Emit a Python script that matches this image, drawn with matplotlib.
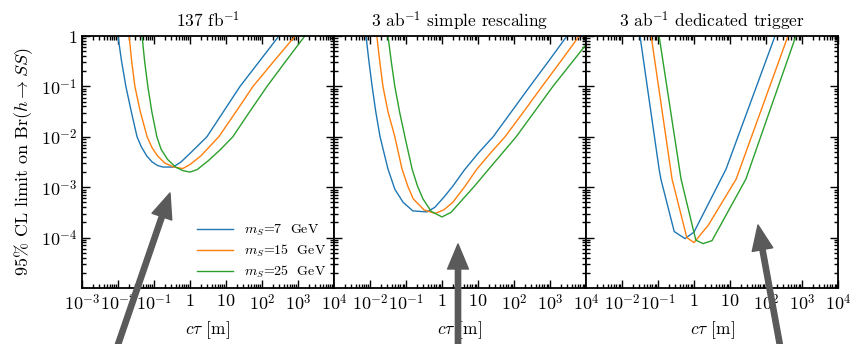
import numpy as np
import matplotlib
matplotlib.use("Agg")
import matplotlib.pyplot as plt
from matplotlib.ticker import LogLocator, FixedLocator, FuncFormatter, NullFormatter
from matplotlib.patches import FancyArrowPatch

plt.rcParams.update({
    "font.family": "serif",
    "font.serif": ["cmr10", "DejaVu Serif"],
    "mathtext.fontset": "cm",
    "axes.unicode_minus": False,
    "axes.formatter.use_mathtext": True,
})

# ---------------- data (log10 values) ----------------
titles = [r"137 fb$^{-1}$", r"3 ab$^{-1}$ simple rescaling", r"3 ab$^{-1}$ dedicated trigger"]
masses = ["7", "15", "25"]
colors = ["#1f77b4", "#ff7f0e", "#2ca02c"]
x_decades = [-3, -2, -1, 0, 1, 2, 3, 4]
y_decades = [-4, -3, -2, -1, 0]

# panel 1: 137 fb^-1
p1_m7_logctau = [-2.0, -1.9, -1.78, -1.63, -1.47, -1.35, -1.2, -1.05, -0.9, -0.75, -0.47,
                 -0.25, 0.0, 0.47, 0.93, 1.39, 1.93, 2.47]
p1_m7_logbr = [0.0, -0.5, -1.0, -1.5, -2.0, -2.2, -2.38, -2.5, -2.57, -2.6, -2.6,
               -2.5, -2.33, -2.0, -1.5, -1.0, -0.5, 0.0]
p1_m15_logctau = [-1.69, -1.62, -1.53, -1.38, -1.19, -1.05, -0.9, -0.7, -0.45, -0.2, 0.0,
                  0.3, 0.8, 1.28, 1.75, 2.33, 2.92]
p1_m15_logbr = [0.0, -0.5, -1.0, -1.5, -2.0, -2.22, -2.38, -2.52, -2.6, -2.63, -2.55,
                -2.38, -2.0, -1.5, -1.0, -0.5, 0.0]
p1_m25_logctau = [-1.33, -1.26, -1.17, -1.06, -0.92, -0.8, -0.62, -0.4, -0.2, 0.0, 0.2,
                  0.5, 0.85, 1.19, 1.66, 2.14, 2.66, 3.19]
p1_m25_logbr = [0.0, -0.5, -1.0, -1.5, -2.0, -2.25, -2.45, -2.6, -2.67, -2.70, -2.65,
                -2.48, -2.25, -2.0, -1.5, -1.0, -0.5, 0.0]

# panel 2: 3 ab^-1 simple rescaling
p2_m7_logctau = [-2.11, -2.03, -1.94, -1.84, -1.72, -1.6, -1.5, -1.31, -1.08, -0.81, -0.42,
                 -0.2, 0.05, 0.3, 0.62, 1.0, 1.42, 1.93, 2.44, 2.96, 3.47]
p2_m7_logbr = [0.0, -0.5, -1.0, -1.5, -2.0, -2.35, -2.64, -3.04, -3.3, -3.47, -3.49,
               -3.4, -3.2, -2.98, -2.66, -2.33, -2.0, -1.5, -1.0, -0.5, 0.0]
p2_m15_logctau = [-1.81, -1.73, -1.64, -1.5, -1.31, -1.11, -0.95, -0.8, -0.5, -0.19, 0.05,
                  0.3, 0.62, 0.97, 1.35, 1.75, 2.27, 2.78, 3.3, 3.81]
p2_m15_logbr = [0.0, -0.5, -1.0, -1.5, -2.0, -2.64, -2.98, -3.23, -3.45, -3.52, -3.45,
                -3.3, -3.0, -2.64, -2.32, -2.0, -1.5, -1.0, -0.5, 0.0]
p2_m25_logctau = [-1.5, -1.41, -1.31, -1.18, -1.03, -0.83, -0.68, -0.53, -0.3, 0.0, 0.25,
                  0.5, 0.9, 1.3, 1.68, 2.06, 2.57, 3.08, 3.58, 4.08]
p2_m25_logbr = [0.0, -0.5, -1.0, -1.5, -2.0, -2.64, -2.98, -3.23, -3.48, -3.59, -3.5,
                -3.3, -2.98, -2.64, -2.32, -2.0, -1.5, -1.0, -0.55, -0.1]

# panel 3: 3 ab^-1 dedicated trigger
p3_m7_logctau = [-1.5, -0.97, -0.92, -0.55, -0.25, 0.0, 0.89, 2.25]
p3_m7_logbr = [0.0, -2.64, -2.84, -3.88, -4.02, -3.89, -2.64, 0.0]
p3_m15_logctau = [-1.19, -0.61, -0.2, 0.0, 0.4, 1.17, 2.61]
p3_m15_logbr = [0.0, -2.84, -4.0, -4.1, -3.75, -2.84, 0.0]
p3_m25_logctau = [-0.97, -0.36, 0.05, 0.25, 0.5, 1.44, 2.83]
p3_m25_logbr = [0.0, -2.84, -4.05, -4.12, -4.06, -2.84, 0.0]

panels = [
    [(p1_m7_logctau, p1_m7_logbr), (p1_m15_logctau, p1_m15_logbr), (p1_m25_logctau, p1_m25_logbr)],
    [(p2_m7_logctau, p2_m7_logbr), (p2_m15_logctau, p2_m15_logbr), (p2_m25_logctau, p2_m25_logbr)],
    [(p3_m7_logctau, p3_m7_logbr), (p3_m15_logctau, p3_m15_logbr), (p3_m25_logctau, p3_m25_logbr)],
]

xlim = (1e-3, 1e4)
ylim = (1e-5, 1.0)


def fmt(v, pos):
    e = int(round(np.log10(v)))
    if e == 0:
        return r"$1$"
    if e == 1:
        return r"$10$"
    return r"$10^{%d}$" % e


fig, axes = plt.subplots(1, 3, figsize=(8.52, 3.44), dpi=100, sharey=True)
fig.subplots_adjust(left=0.0962, right=0.9836, top=0.8953, bottom=0.1628, wspace=0.0)

for i, ax in enumerate(axes):
    for (lx, ly), m, c in zip(panels[i], masses, colors):
        ax.plot(10 ** np.array(lx), 10 ** np.array(ly), color=c, lw=1.0,
                label=r"$m_S$=%s  GeV" % m)
    ax.set_xscale("log")
    ax.set_yscale("log")
    ax.set_xlim(*xlim)
    ax.set_ylim(*ylim)
    ax.set_title(titles[i], fontsize=12.5, pad=6)
    ax.set_xlabel(r"$c\tau$ [m]", fontsize=12.5)
    xt = [10.0 ** e for e in x_decades if not (i > 0 and e == x_decades[0])]
    ax.xaxis.set_major_locator(FixedLocator(xt))
    ax.xaxis.set_minor_locator(LogLocator(base=10, subs=np.arange(2, 10), numticks=20))
    ax.yaxis.set_major_locator(FixedLocator([10.0 ** e for e in y_decades]))
    ax.yaxis.set_minor_locator(LogLocator(base=10, subs=np.arange(2, 10), numticks=20))
    ax.xaxis.set_major_formatter(FuncFormatter(fmt))
    ax.xaxis.set_minor_formatter(NullFormatter())
    ax.yaxis.set_major_formatter(FuncFormatter(fmt))
    ax.yaxis.set_minor_formatter(NullFormatter())
    ax.tick_params(which="both", direction="in", top=True, right=True, labelsize=13, width=1.0)
    ax.tick_params(which="major", length=6)
    ax.tick_params(which="minor", length=3)
    for s in ax.spines.values():
        s.set_linewidth(1.3)

axes[0].set_ylabel(r"95% CL limit on Br$(h\rightarrow SS)$", fontsize=13)
axes[0].legend(loc="lower right", frameon=False, fontsize=10, handlelength=2.6,
               handletextpad=0.8, labelspacing=0.35, borderaxespad=0.15)

# overlaid gray arrows (figure pixel coordinates -> fraction)
W, H = 852.0, 344.0
arrow_tails = [(112, 362), (458, 362), (783, 362)]
arrow_tips = [(170, 193), (458, 244), (758, 225)]
for (tx, ty), (hx, hy) in zip(arrow_tails, arrow_tips):
    a = FancyArrowPatch((tx / W, 1 - ty / H), (hx / W, 1 - hy / H),
                        transform=fig.transFigure,
                        arrowstyle="simple,head_length=1.8,head_width=1.5,tail_width=0.38",
                        mutation_scale=10, color="#5a5a5a", shrinkA=0, shrinkB=0,
                        zorder=10, clip_on=False)
    fig.add_artist(a)

fig.savefig("out.png", dpi=100)
